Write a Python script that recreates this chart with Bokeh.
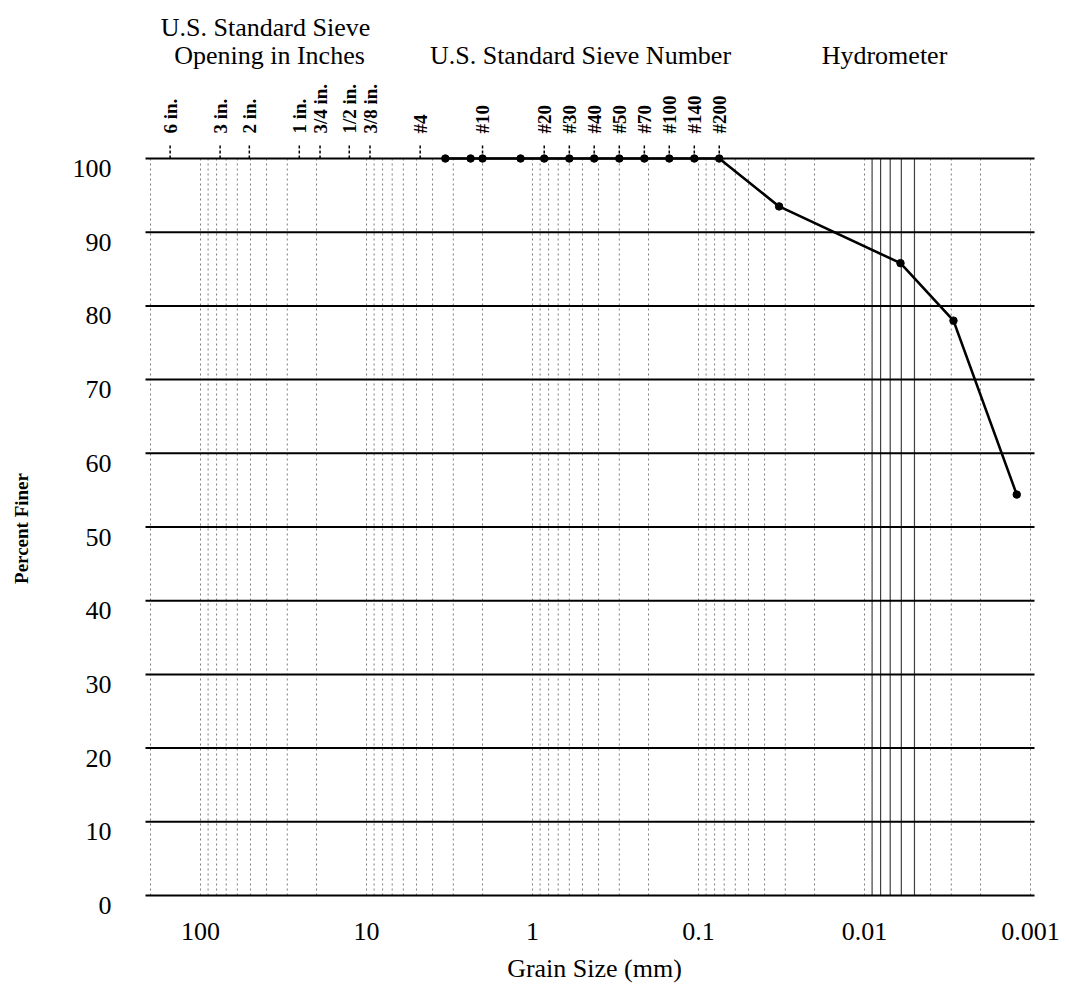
import numpy as np
from bokeh.plotting import figure
from bokeh.models import Range1d, ColumnDataSource
from bokeh.core.properties import value
from bokeh.embed import file_html
from bokeh.resources import INLINE

# ---------------- data ----------------
sieve_labels = ["6 in.", "3 in.", "2 in.", "1 in.", "3/4 in.", "1/2 in.", "3/8 in.",
                "#4", "#10", "#20", "#30", "#40", "#50", "#70", "#100", "#140", "#200"]
sieve_sizes_mm = [152.4, 76.2, 50.8, 25.4, 19.05, 12.7, 9.525,
                  4.75, 2.0, 0.85, 0.6, 0.425, 0.3, 0.212, 0.15, 0.106, 0.075]

grain_size_mm = [3.35, 2.36, 2.0, 1.18, 0.85, 0.6, 0.425, 0.3, 0.212, 0.15, 0.106, 0.075,
                 0.0327, 0.00607, 0.00291, 0.00121]
percent_finer = [100, 100, 100, 100, 100, 100, 100, 100, 100, 100, 100, 100,
                 93.5, 85.8, 78.0, 54.4]

y_ticks = [0, 10, 20, 30, 40, 50, 60, 70, 80, 90, 100]
y_tick_labels = ["0", "10", "20", "30", "40", "50", "60", "70", "80", "90", "100"]
x_tick_values = [100, 10, 1, 0.1, 0.01, 0.001]
x_tick_labels = ["100", "10", "1", "0.1", "0.01", "0.001"]

# ---------------- layout helpers (screen px -> data) ----------------
FONT = "Liberation Serif"
W, H = 1069, 987
PLOT_LEFT_PX, PLOT_RIGHT_PX = 145, 1034
PX_PER_DECADE = 166.0
X_REF_PX, X_REF_LOG = 200.0, 2.0
Y0_PX, Y100_PX = 895.0, 158.0


def x_at(px):
    return 10 ** (X_REF_LOG - (px - X_REF_PX) / PX_PER_DECADE)


def y_at(py):
    return (Y0_PX - py) * 100.0 / (Y0_PX - Y100_PX)


p = figure(width=W, height=H, x_axis_type="log",
           x_range=Range1d(x_at(0), x_at(W)), y_range=Range1d(y_at(H), y_at(0)),
           min_border=0, output_backend="svg", toolbar_location=None)
p.outline_line_color = None
p.background_fill_color = "white"
p.border_fill_color = "white"
p.grid.visible = False
p.xaxis.visible = False
p.yaxis.visible = False

x_left, x_right = x_at(PLOT_LEFT_PX), x_at(PLOT_RIGHT_PX)

# log-paper vertical lines (0..100 only)
grid_x, grid_solid = [], []
for e in range(-4, 4):
    for m in range(1, 10):
        v = m * 10.0 ** e
        if x_right <= v <= x_left:
            if e == -3 and m >= 5:
                grid_solid.append(v)
            else:
                grid_x.append(v)
gsrc = ColumnDataSource(dict(x=grid_x))
p.segment(x0="x", x1="x", y0=0, y1=100, source=gsrc,
          line_color="#666666", line_width=1, line_dash="2 3", line_alpha=0.85)
gsrc2 = ColumnDataSource(dict(x=grid_solid))
p.segment(x0="x", x1="x", y0=0, y1=100, source=gsrc2,
          line_color="#404040", line_width=1.2)

# horizontal percent lines
hsrc = ColumnDataSource(dict(y=y_ticks))
p.segment(x0=x_left, x1=x_right, y0="y", y1="y", source=hsrc,
          line_color="black", line_width=2)

# y tick labels
ylsrc = ColumnDataSource(dict(y=y_ticks, text=y_tick_labels))
p.text(x=x_at(111), y="y", text="text", source=ylsrc, y_offset=10,
       text_align="right", text_baseline="middle",
       text_font=value(FONT), text_font_size="26px", text_color="black")

# x tick labels
xlsrc = ColumnDataSource(dict(x=x_tick_values, text=x_tick_labels))
p.text(x="x", y=y_at(931), text="text", source=xlsrc,
       text_align="center", text_baseline="middle",
       text_font=value(FONT), text_font_size="26px", text_color="black")

# sieve tick marks and labels above the 100 % line
ssrc = ColumnDataSource(dict(x=sieve_sizes_mm, text=sieve_labels))
p.segment(x0="x", x1="x", y0=100, y1=y_at(143), source=ssrc,
          line_color="black", line_width=1.5, line_dash="3 2")
p.text(x="x", y=y_at(133), text="text", source=ssrc, angle=np.pi / 2,
       text_align="left", text_baseline="middle",
       text_font=value(FONT), text_font_size="19px", text_font_style="bold",
       text_color="black")

# data
dsrc = ColumnDataSource(dict(x=grain_size_mm, y=percent_finer))
p.line("x", "y", source=dsrc, line_color="black", line_width=2.6)
p.scatter("x", "y", source=dsrc, size=7.5, fill_color="black", line_color="black")

# titles
def add_text(text, px, py, size="26px", angle=0.0, baseline="alphabetic", style="normal"):
    p.text(x=[x_at(px)], y=[y_at(py)], text=[text], angle=angle,
           text_align="center", text_baseline=baseline,
           text_font=value(FONT), text_font_size=size, text_font_style=style,
           text_color="black")


add_text("U.S. Standard Sieve", 265, 27)
add_text("Opening in Inches", 269, 55)
add_text("U.S. Standard Sieve Number", 580, 55)
add_text("Hydrometer", 884, 55)
add_text("Grain Size (mm)", 594, 968, baseline="middle")
add_text("Percent Finer", 21, 528, size="19px", angle=np.pi / 2, baseline="middle",
         style="bold")

open("out.html", "w").write(file_html(p, INLINE))
